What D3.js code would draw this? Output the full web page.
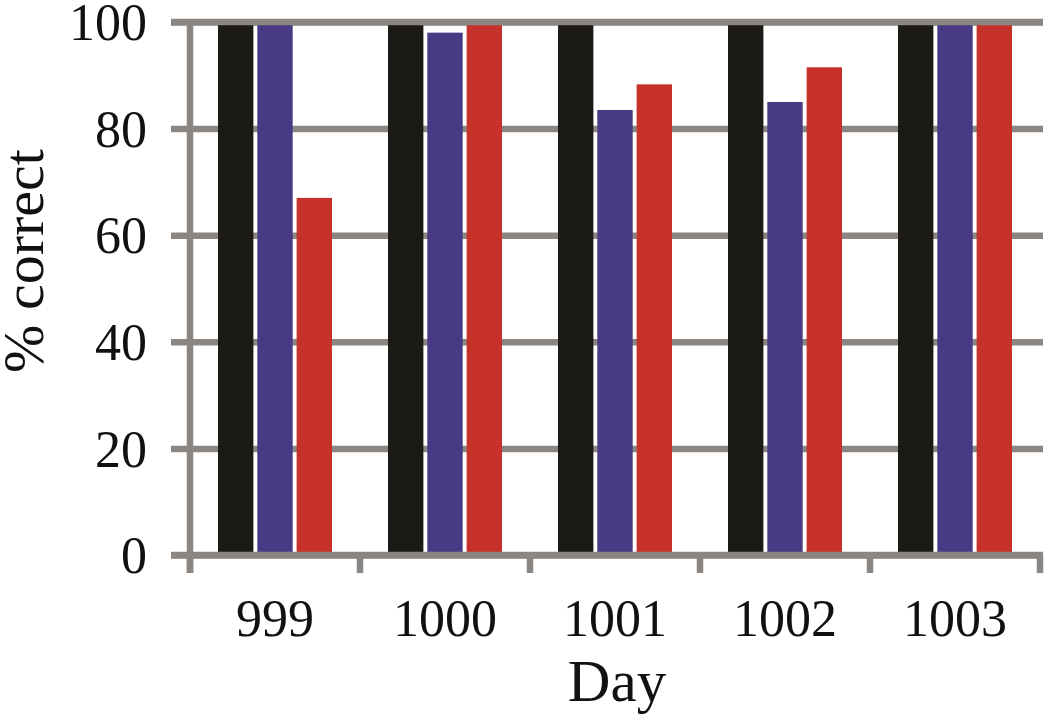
<!DOCTYPE html>
<html>
<head>
<meta charset="utf-8">
<script src="https://cdn.jsdelivr.net/npm/d3@7"></script>
<style>
  body { margin: 0; background: #fff; }
  text { font-family: "Liberation Serif", "Times New Roman", serif; fill: #111; }
</style>
</head>
<body>
<div id="chart"></div>
<script>
// data
var days = ["999", "1000", "1001", "1002", "1003"];
var series = ["black", "blue", "red"];
var blackVals = [100, 100, 100, 100, 100];
var blueVals = [100, 98, 83.5, 85, 100];
var redVals = [67, 100, 88.3, 91.5, 100];
var yTicks = [0, 20, 40, 60, 80, 100];

var colors = {black: "#1c1a17", blue: "#483a84", red: "#c6312a"};
var axisGray = "#8c8682";

var rows = [];
days.forEach(function(d, i) {
  rows.push({day: d, key: "black", value: blackVals[i]});
  rows.push({day: d, key: "blue", value: blueVals[i]});
  rows.push({day: d, key: "red", value: redVals[i]});
});

var W = 1050, H = 718;
var plotLeft = 190, plotRight = 1040, plotTop = 22, plotBottom = 555;

var svg = d3.select("#chart")
  .append("svg")
  .attr("width", W)
  .attr("height", H);

var x0 = d3.scaleBand()
  .domain(days)
  .range([plotLeft, plotRight])
  .padding(0);

var x1 = d3.scaleBand()
  .domain(series)
  .range([28, 142])
  .paddingInner(0.1);

var y = d3.scaleLinear()
  .domain([0, 100])
  .range([plotBottom, plotTop]);

// gridlines + y labels (axis placed at right end, ticks reach back past the y axis)
var gridRight = 1043, gridLeft = 171;
var yAxis = svg.append("g")
  .attr("transform", "translate(" + gridRight + ",0)")
  .call(d3.axisLeft(y)
    .tickValues(yTicks)
    .tickSize(gridRight - gridLeft)
    .tickPadding(gridLeft - 147));
yAxis.select(".domain").remove();
yAxis.selectAll("line")
  .attr("stroke", axisGray)
  .attr("stroke-width", 6.5);
yAxis.selectAll("text")
  .style("font-size", "52px")
  .attr("dy", "0.34em");

// bars
svg.append("g")
  .selectAll("rect")
  .data(rows)
  .join("rect")
  .attr("x", function(d) { return x0(d.day) + x1(d.key); })
  .attr("y", function(d) { return y(d.value); })
  .attr("width", x1.bandwidth())
  .attr("height", function(d) { return y(0) - y(d.value); })
  .attr("fill", function(d) { return colors[d.key]; });

// top gridline sits over the bars
svg.append("line")
  .attr("x1", gridLeft).attr("x2", gridRight)
  .attr("y1", y(100)).attr("y2", y(100))
  .attr("stroke", axisGray)
  .attr("stroke-width", 6.5);

// y axis line
svg.append("line")
  .attr("x1", plotLeft).attr("x2", plotLeft)
  .attr("y1", y(100) - 3).attr("y2", 573)
  .attr("stroke", axisGray)
  .attr("stroke-width", 6.5);

// x axis line
svg.append("line")
  .attr("x1", gridLeft).attr("x2", gridRight)
  .attr("y1", y(0)).attr("y2", y(0))
  .attr("stroke", axisGray)
  .attr("stroke-width", 6.5);

// boundary ticks under the x axis
var bounds = days.map(function(d) { return x0(d); }).concat([plotRight]);
svg.append("g")
  .selectAll("line")
  .data(bounds)
  .join("line")
  .attr("x1", function(d) { return d; })
  .attr("x2", function(d) { return d; })
  .attr("y1", y(0))
  .attr("y2", 573)
  .attr("stroke", axisGray)
  .attr("stroke-width", 6.5);

// x labels
var xAxis = svg.append("g")
  .attr("transform", "translate(0," + y(0) + ")")
  .call(d3.axisBottom(x0).tickSize(0).tickPadding(44));
xAxis.select(".domain").remove();
xAxis.selectAll("text")
  .style("font-size", "52px");

// axis titles
svg.append("text")
  .attr("x", (plotLeft + plotRight) / 2 + 2)
  .attr("y", 701)
  .attr("text-anchor", "middle")
  .style("font-size", "59px")
  .text("Day");

svg.append("text")
  .attr("transform", "translate(43,261) rotate(-90)")
  .attr("text-anchor", "middle")
  .style("font-size", "58px")
  .text("% correct");
</script>
</body>
</html>
